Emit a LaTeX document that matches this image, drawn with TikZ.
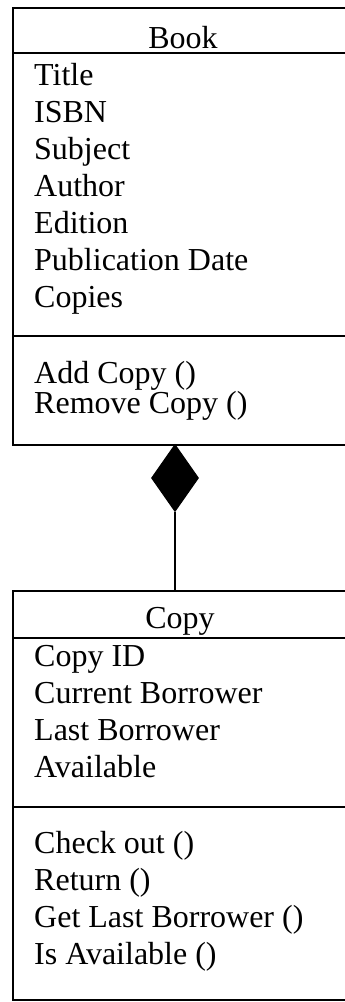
\documentclass[tikz,border=0pt]{standalone}
\usepackage{fontspec}
\setmainfont{Liberation Serif}
\usetikzlibrary{shapes.geometric}
\begin{document}
\begin{tikzpicture}[x=1pt,y=-1pt,
  classframe/.style={draw, line width=1.5pt, rectangle, inner sep=0pt, anchor=north west},
  rule/.style={line width=1.8pt},
  member/.style={anchor=base west, inner sep=0pt, font=\fontsize{32}{37}\selectfont},
  classname/.style={anchor=base, inner sep=0pt, font=\fontsize{32}{37}\selectfont},
  composition/.style={diamond, fill=black, draw=black, line width=1pt, inner sep=0pt,
    minimum width=47pt, minimum height=67pt, anchor=north},
  link/.style={line width=1.5pt}]
\useasboundingbox (0,0) rectangle (345,1002);
\clip (0,0) rectangle (345,1002);

% ---- class Book ----
\node[classframe, minimum width=340pt, minimum height=437pt] (book) at (12,7) {};
\draw[rule] (12,53) -- (352,53);
\draw[rule] (12,336) -- (352,336);
\node[classname] (bookname) at (183,48) {Book};
\node[member] (b1) at (34,85)  {Title};
\node[member] (b2) at (34,122) {ISBN};
\node[member] (b3) at (34,159) {Subject};
\node[member] (b4) at (34,196) {Author};
\node[member] (b5) at (34,233) {Edition};
\node[member] (b6) at (34,270) {Publication Date};
\node[member] (b7) at (34,307) {Copies};
\node[member] (bm1) at (34,383) {Add Copy ()};
\node[member] (bm2) at (34,413) {Remove Copy ()};

% ---- class Copy ----
\node[classframe, minimum width=340pt, minimum height=409pt] (copy) at (12,590) {};
\draw[rule] (12,638) -- (352,638);
\draw[rule] (12,807) -- (352,807);
\node[classname] (copyname) at (180,628) {Copy};
\node[member] (c1) at (34,666) {Copy ID};
\node[member] (c2) at (34,703) {Current Borrower};
\node[member] (c3) at (34,740) {Last Borrower};
\node[member] (c4) at (34,777) {Available};
\node[member] (cm1) at (34,853) {Check out ()};
\node[member] (cm2) at (34,890) {Return ()};
\node[member] (cm3) at (34,927) {Get Last Borrower ()};
\node[member] (cm4) at (34,964) {Is Available ()};

% ---- composition: Book owns its Copies ----
\node[composition] (whole) at (175,444) {};
\draw[link] (whole.south) -- (whole.south |- copy.north);
\end{tikzpicture}
\end{document}
